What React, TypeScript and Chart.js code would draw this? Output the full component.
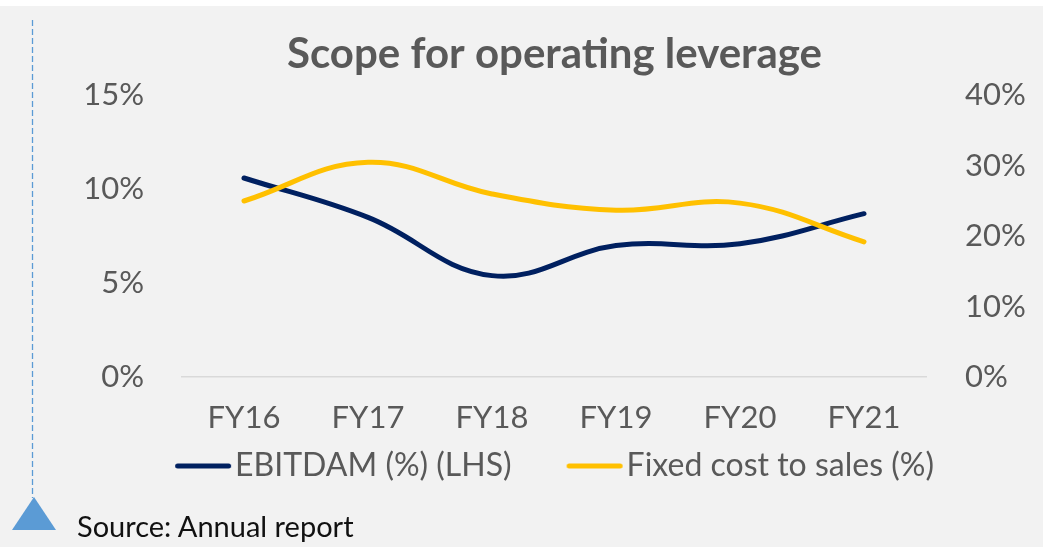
import React, { useEffect, useRef } from "react";
import { Chart, registerables } from "chart.js";

Chart.register(...registerables);

const categories = ["FY16", "FY17", "FY18", "FY19", "FY20", "FY21"];
const ebitdam = [10.6, 8.5, 5.4, 7.0, 7.1, 8.7];
const fixedCost = [25.0, 30.5, 26.0, 23.7, 24.7, 19.2];
const leftTicks = [0, 5, 10, 15];
const rightTicks = [0, 10, 20, 30, 40];

const FONT = "Lato, 'DejaVu Sans', sans-serif";
const GRAY = "#595959";
const NAVY = "#002060";
const YELLOW = "#FFC000";
const BLUE = "#5B9BD5";

function legendMarker(color: string): HTMLCanvasElement {
  const c = document.createElement("canvas");
  c.width = 112;
  c.height = 8;
  const g = c.getContext("2d");
  if (g) {
    g.strokeStyle = color;
    g.lineWidth = 5;
    g.lineCap = "round";
    g.beginPath();
    g.moveTo(36.5, 4);
    g.lineTo(87.5, 4);
    g.stroke();
  }
  return c;
}

const legendShift = {
  id: "legendShift",
  afterLayout(chart: any) {
    const lg = chart.legend;
    if (lg) {
      lg.top -= 40;
      lg.bottom -= 40;
    }
  },
};

export default function App() {
  const ref = useRef<HTMLCanvasElement | null>(null);

  useEffect(() => {
    if (!ref.current) return;
    const chart = new Chart(ref.current, {
      type: "line",
      plugins: [legendShift],
      data: {
        labels: categories,
        datasets: [
          {
            label: "EBITDAM (%) (LHS)",
            data: ebitdam,
            borderColor: NAVY,
            backgroundColor: NAVY,
            borderWidth: 5,
            borderCapStyle: "round",
            tension: 0.4,
            pointRadius: 0,
            pointStyle: legendMarker(NAVY),
            yAxisID: "y",
            order: 1,
          },
          {
            label: "Fixed cost to sales (%)",
            data: fixedCost,
            borderColor: YELLOW,
            backgroundColor: YELLOW,
            borderWidth: 5,
            borderCapStyle: "round",
            tension: 0.4,
            pointRadius: 0,
            pointStyle: legendMarker(YELLOW),
            yAxisID: "y1",
            order: 0,
          },
        ],
      },
      options: {
        animation: false,
        responsive: false,
        maintainAspectRatio: false,
        layout: { padding: 0 },
        plugins: {
          title: {
            display: true,
            text: "Scope for operating leverage",
            color: GRAY,
            font: { family: FONT, size: 42, weight: "bold" },
            padding: { top: 29, bottom: 16 },
          },
          legend: {
            position: "bottom",
            labels: {
              usePointStyle: true,
              pointStyleWidth: 44,
              color: GRAY,
              font: { family: FONT, size: 32 },
              padding: 55,
              sort: (a: any, b: any) => a.datasetIndex - b.datasetIndex,
            },
          },
          tooltip: { enabled: false },
        },
        scales: {
          x: {
            offset: true,
            grid: { display: false, drawTicks: false },
            border: { display: true, color: "#D9D9D9", width: 1.5 },
            ticks: { padding: 22, color: GRAY, font: { family: FONT, size: 31 } },
            afterFit: (s: any) => {
              s.height = 58;
            },
          },
          y: {
            position: "left",
            min: 0,
            max: 15,
            grid: { display: false },
            border: { display: false },
            ticks: {
              padding: 30,
              color: GRAY,
              font: { family: FONT, size: 31 },
              callback: (v: any) => v + "%",
            },
            afterBuildTicks: (s: any) => {
              s.ticks = leftTicks.map((v) => ({ value: v }));
            },
            afterFit: (s: any) => {
              s.width = 116;
            },
          },
          y1: {
            position: "right",
            min: 0,
            max: 40,
            grid: { display: false },
            border: { display: false },
            ticks: {
              padding: 31,
              color: GRAY,
              font: { family: FONT, size: 31 },
              callback: (v: any) => v + "%",
            },
            afterBuildTicks: (s: any) => {
              s.ticks = rightTicks.map((v) => ({ value: v }));
            },
            afterFit: (s: any) => {
              s.width = 117;
            },
          },
        },
      },
    });
    return () => chart.destroy();
  }, []);

  return (
    <div
      style={{
        position: "fixed",
        left: 0,
        top: 0,
        width: 1043,
        height: 547,
        background: "#F2F2F2",
        overflow: "hidden",
      }}
    >
      <div style={{ position: "absolute", left: 0, top: 0, width: 1043, height: 6, background: "#FFFFFF" }} />
      <svg
        width={20}
        height={500}
        style={{ position: "absolute", left: 22, top: 0 }}
      >
        <line x1={10.5} y1={20} x2={10.5} y2={498} stroke={BLUE} strokeWidth={1.3} strokeDasharray="6 3" />
      </svg>
      <div
        style={{
          position: "absolute",
          left: 12,
          top: 497,
          width: 0,
          height: 0,
          borderLeft: "22px solid transparent",
          borderRight: "22px solid transparent",
          borderBottom: `33px solid ${BLUE}`,
        }}
      />
      <canvas
        ref={ref}
        width={977}
        height={532}
        style={{ position: "absolute", left: 66, top: 0, width: 977, height: 532 }}
      />
      <div
        style={{
          position: "absolute",
          left: 77,
          top: 507,
          fontFamily: FONT,
          fontSize: 29,
          color: "#111111",
          whiteSpace: "nowrap",
          lineHeight: "38px",
        }}
      >
        Source: Annual report
      </div>
    </div>
  );
}
